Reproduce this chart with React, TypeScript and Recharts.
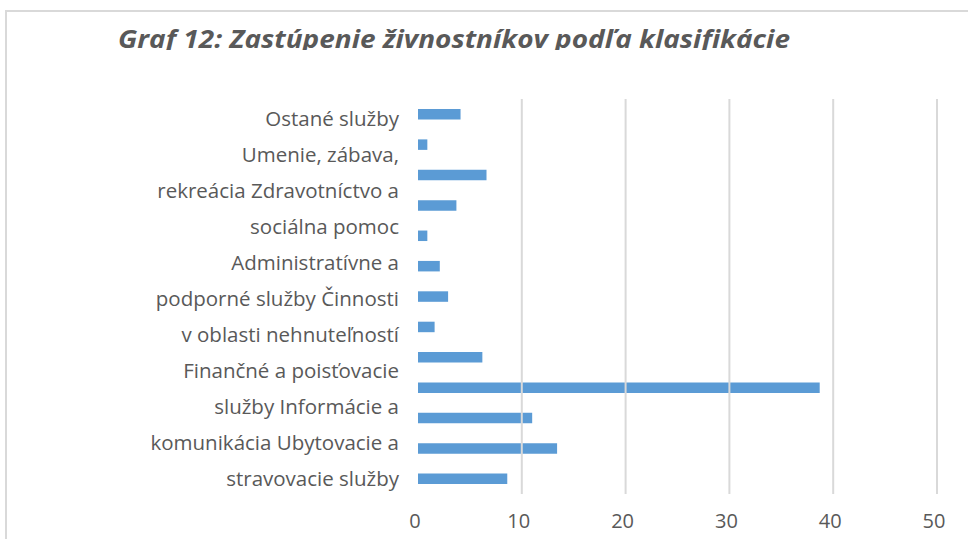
import { BarChart, Bar, XAxis, YAxis, ReferenceLine } from "recharts";

const title = "Graf 12: Zastúpenie živnostníkov podľa klasifikácie";

// one entry per bar, top to bottom
const categories = ["1", "2", "3", "4", "5", "6", "7", "8", "9", "10", "11", "12", "13"];
const values = [4.1, 0.9, 6.6, 3.7, 0.9, 2.1, 2.9, 1.6, 6.2, 38.7, 11.0, 13.4, 8.6];

// the wrapped axis text, as it is laid out on the left side
const labelLines = [
  "Ostané služby",
  "Umenie, zábava,",
  "rekreácia Zdravotníctvo a",
  "sociálna pomoc",
  "Administratívne a",
  "podporné služby Činnosti",
  "v oblasti nehnuteľností",
  "Finančné a poisťovacie",
  "služby Informácie a",
  "komunikácia Ubytovacie a",
  "stravovacie služby",
];
const lineTicks = labelLines.map((_, i) => i);

const xTicks = [0, 10, 20, 30, 40, 50];
const gridTicks = [10, 20, 30, 40, 50];

const data = categories.map((name, i) => ({ name, value: values[i] }));
const lineData = lineTicks.map((i) => ({ line: i }));

const FONT = "'Open Sans', 'Noto Sans', sans-serif";
const TEXT = "#595959";
const GRID = "#d9d9d9";
const MARGIN = { top: 99, right: 31, bottom: 5, left: 8 };
const X_AXIS_H = 40;

function LineTick(props: any) {
  const { x, y, payload } = props;
  return (
    <text
      x={x}
      y={y}
      dy={6}
      textAnchor="end"
      fill={TEXT}
      fontSize={20.5}
      fontFamily={FONT}
    >
      {labelLines[payload.value]}
    </text>
  );
}

export default function App() {
  return (
    <div
      style={{
        position: "fixed",
        left: 0,
        top: 0,
        width: 968,
        height: 539,
        overflow: "hidden",
        background: "#fff",
      }}
    >
      <div
        style={{
          position: "absolute",
          left: 5,
          top: 10,
          width: 1000,
          height: 600,
          borderLeft: `2px solid ${GRID}`,
          borderTop: `2px solid ${GRID}`,
        }}
      />
      <svg
        width={968}
        height={50}
        style={{ position: "absolute", left: 0, top: 0 }}
      >
        <text
          x={118}
          y={48}
          fill={TEXT}
          fontSize={25}
          fontWeight="bold"
          fontStyle="italic"
          fontFamily={FONT}
          textLength={672}
          lengthAdjust="spacingAndGlyphs"
        >
          {title}
        </text>
      </svg>
      <div style={{ position: "absolute", left: 0, top: 0 }}>
        <BarChart
          width={968}
          height={539}
          data={data}
          layout="vertical"
          margin={{ ...MARGIN, left: MARGIN.left + 410 }}
        >
          <XAxis
            type="number"
            domain={[0, 50]}
            ticks={xTicks}
            axisLine={false}
            tickLine={false}
            tickMargin={14}
            height={X_AXIS_H}
            tick={{ fill: TEXT, fontSize: 20, fontFamily: FONT, dx: -3 }}
          />
          <YAxis type="category" dataKey="name" width={0} hide />
          {gridTicks.map((t) => (
            <ReferenceLine key={t} x={t} stroke={GRID} strokeWidth={2} />
          ))}
          <Bar
            dataKey="value"
            fill="#5b9bd5"
            barSize={10.5}
            isAnimationActive={false}
          />
        </BarChart>
      </div>
      {/* the left-hand text lines do not follow the bars, so they get their own axis */}
      <div
        style={{ position: "absolute", left: 0, top: 0, pointerEvents: "none" }}
      >
        <BarChart
          width={968}
          height={539}
          data={lineData}
          margin={{ ...MARGIN, bottom: MARGIN.bottom + X_AXIS_H }}
        >
          <XAxis dataKey="line" hide />
          <YAxis
            type="number"
            domain={[0, labelLines.length - 1]}
            allowDataOverflow
            ticks={lineTicks}
            reversed
            width={410}
            padding={{ top: 21, bottom: 14 }}
            axisLine={false}
            tickLine={false}
            tickSize={0}
            tickMargin={19}
            interval={0}
            tick={<LineTick />}
          />
        </BarChart>
      </div>
    </div>
  );
}
